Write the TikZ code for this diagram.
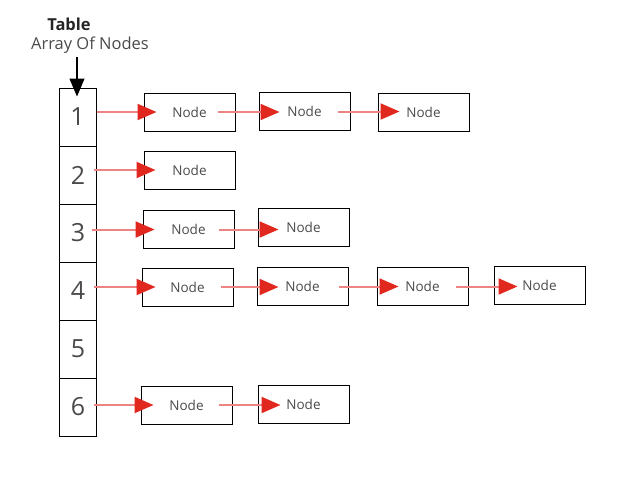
\documentclass[tikz,border=0pt]{standalone}
\usepackage{fontspec}
\setmainfont{Open Sans}
\usetikzlibrary{arrows.meta}
\definecolor{tipred}{HTML}{E0281E}
\definecolor{linered}{HTML}{EB8482}
\definecolor{txtgray}{HTML}{4A4A4A}
\tikzset{
  cellbox/.style={draw=black, line width=1pt, minimum width=37pt, minimum height=58pt, inner sep=0pt, font=\fontsize{25}{25}\selectfont, text=txtgray},
  listnode/.style={draw=black, line width=1pt, minimum width=91pt, minimum height=38pt, inner sep=0pt, font=\fontsize{13.5}{14}\selectfont, text=txtgray},
  redarrow/.style={draw=linered, line width=2pt, -{Triangle[length=19pt,width=16pt,color=tipred]}},
  blackarrow/.style={draw=black, line width=1.2pt, -{Triangle[length=18pt,width=15pt]}}
}
\begin{document}
\begin{tikzpicture}[x=1pt,y=-1pt]
\useasboundingbox (0,0) rectangle (624,499);
% title
\node[font=\fontsize{16.5}{17}\selectfont\bfseries, text=black!85, inner sep=0pt] (title) at (69,24) {Table};
\node[font=\fontsize{16.5}{17}\selectfont, text=txtgray, inner sep=0pt] (sub) at (90,45) {Array Of Nodes};
% cells
\node[cellbox] (c1) at (77.5,117) {1};
\node[cellbox] (c2) at (78,175) {2};
\node[cellbox] (c3) at (78,233) {3};
\node[cellbox] (c4) at (78,291) {4};
\node[cellbox] (c5) at (78,349) {5};
\node[cellbox] (c6) at (78,407) {6};
\coordinate (top) at (77,57);
\draw[blackarrow] (top) -- ([yshift=-9pt]c1.north -| top);
% list nodes
\node[listnode] (n11) at (189.5,112) {Node};
\node[listnode] (n12) at (304.5,111.5) {Node};
\node[listnode] (n13) at (423.5,112) {Node};
\node[listnode] (n21) at (189.5,170) {Node};
\node[listnode] (n31) at (188.5,229.5) {Node};
\node[listnode] (n32) at (303.5,227.5) {Node};
\node[listnode] (n41) at (187.5,287) {Node};
\node[listnode] (n42) at (302.5,286.5) {Node};
\node[listnode] (n43) at (422.5,286.5) {Node};
\node[listnode] (n44) at (539.5,285.5) {Node};
\node[listnode] (n61) at (186.5,405) {Node};
\node[listnode] (n62) at (303.5,404) {Node};
% cell to first node
\draw[redarrow] (c1.east |- n11.west) -- ([xshift=13pt]n11.west);
\draw[redarrow] ([xshift=-3pt]c2.east |- n21.west) -- ([xshift=12pt]n21.west);
\draw[redarrow] ([xshift=-5pt]c3.east |- n31.west) -- ([xshift=12pt]n31.west);
\draw[redarrow] ([xshift=-3pt]c4.east |- n41.west) -- ([xshift=14pt]n41.west);
\draw[redarrow] ([xshift=-3pt]c6.east |- n61.west) -- ([xshift=13pt]n61.west);
% node to node
\draw[redarrow] ([xshift=-18pt]n11.east) -- ([xshift=21pt]n12.west |- n11.east);
\draw[redarrow] ([xshift=-13pt]n12.east) -- ([xshift=22pt]n13.west |- n12.east);
\draw[redarrow] ([xshift=-16pt]n31.east) -- ([xshift=21pt]n32.west |- n31.east);
\draw[redarrow] ([xshift=-13pt]n41.east) -- ([xshift=22pt]n42.west |- n41.east);
\draw[redarrow] ([xshift=-10pt]n42.east) -- ([xshift=22pt]n43.west |- n42.east);
\draw[redarrow] ([xshift=-13pt]n43.east) -- ([xshift=24pt]n44.west |- n43.east);
\draw[redarrow] ([xshift=-14pt]n61.east) -- ([xshift=23pt]n62.west |- n61.east);
\end{tikzpicture}
\end{document}
